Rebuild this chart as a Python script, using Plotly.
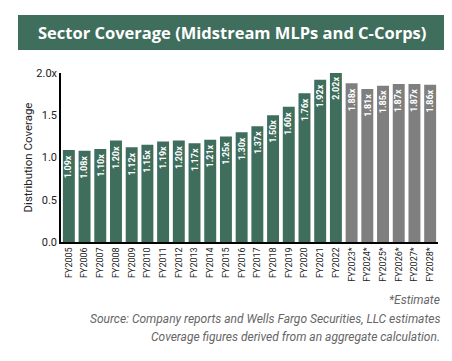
import plotly.graph_objects as go

years = ["FY2005","FY2006","FY2007","FY2008","FY2009","FY2010","FY2011","FY2012",
         "FY2013","FY2014","FY2015","FY2016","FY2017","FY2018","FY2019","FY2020",
         "FY2021","FY2022","FY2023*","FY2024*","FY2025*","FY2026*","FY2027*","FY2028*"]
coverage = [1.09,1.08,1.10,1.20,1.12,1.15,1.19,1.20,1.17,1.21,1.25,1.30,1.37,1.50,
            1.60,1.76,1.92,2.02,1.88,1.81,1.85,1.87,1.87,1.86]
is_estimate = [y.endswith("*") for y in years]
ytick_vals = [0, 0.5, 1.0, 1.5, 2.0]
ytick_text = ["0.0", "0.5", "1.0", "1.5", "2.0x"]

GREEN = "#3f6e5d"
GRAY = "#7f7f7f"
FONT = "Roboto, Noto Sans, sans-serif"
Y_MAX = 2.0
PLOT_H = 169  # plot area height in px

colors = [GRAY if e else GREEN for e in is_estimate]

fig = go.Figure(go.Bar(
    x=years, y=coverage, marker=dict(color=colors, line=dict(width=0)),
    cliponaxis=False, width=0.76, hoverinfo="skip",
))

# value labels at the top inside each bar (values above the axis max are shifted in pixels)
value_labels = []
for yr, v in zip(years, coverage):
    ya = min(v, Y_MAX)
    extra = (v - ya) * PLOT_H / Y_MAX
    value_labels.append(dict(
        text=f"{v:.2f}x", x=yr, y=ya, xref="x", yref="y", yshift=-3 + extra,
        textangle=-90, xanchor="center", yanchor="top", showarrow=False,
        font=dict(family=FONT, size=9, color="white", weight="bold")))

foot = dict(family=FONT, size=12, color="#666666", style="italic")

fig.update_layout(
    width=444, height=353,
    margin=dict(l=53, r=14, t=65, b=119, autoexpand=False),
    paper_bgcolor="white", plot_bgcolor="white",
    showlegend=False,
    shapes=[dict(type="rect", xref="paper", yref="paper",
                 x0=-43/377, x1=384/377, y0=1 + 23/169, y1=1 + 58/169,
                 fillcolor=GREEN, line=dict(width=0), layer="below")],
    annotations=value_labels + [
        dict(text="Sector Coverage (Midstream MLPs and C-Corps)", xref="paper", yref="paper",
             x=171/377, y=1 + 40.5/169, xanchor="center", yanchor="middle", showarrow=False,
             font=dict(family="Open Sans, Noto Sans, sans-serif", size=16.5, color="white", weight="bold")),
        dict(text="*Estimate", xref="paper", yref="paper", x=381/377, y=-58/169,
             xanchor="right", yanchor="middle", showarrow=False, font=foot),
        dict(text="Source: Company reports and Wells Fargo Securities, LLC estimates",
             xref="paper", yref="paper", x=381/377, y=-77/169,
             xanchor="right", yanchor="middle", showarrow=False, font=foot),
        dict(text="Coverage figures derived from an aggregate calculation.",
             xref="paper", yref="paper", x=381/377, y=-95/169,
             xanchor="right", yanchor="middle", showarrow=False, font=foot),
    ],
)

fig.update_xaxes(
    tickangle=-90, tickfont=dict(family=FONT, size=9, color="#222222"),
    showline=True, linecolor="black", linewidth=1.5, showgrid=False,
    ticks="", layer="below traces", fixedrange=True,
)
fig.update_yaxes(
    range=[0, Y_MAX], tickvals=ytick_vals, ticktext=ytick_text,
    tickfont=dict(family=FONT, size=11, color="#222222"),
    title=dict(text="Distribution Coverage", font=dict(family=FONT, size=11.5, color="#222222"), standoff=1),
    showline=True, linecolor="black", linewidth=1.5, showgrid=False, zeroline=False,
    ticks="", fixedrange=True,
)

fig.write_html("out.html")
